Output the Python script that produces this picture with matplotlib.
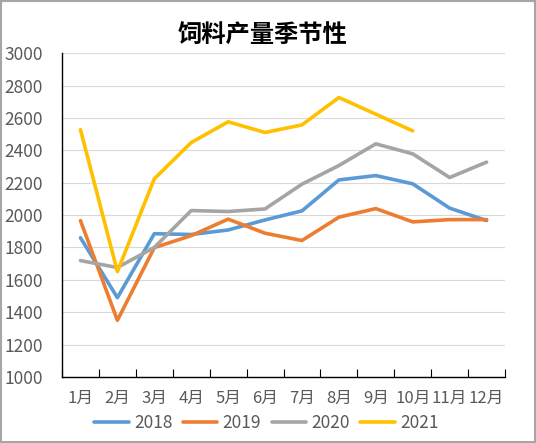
import matplotlib
matplotlib.use('Agg')
import matplotlib.pyplot as plt
from matplotlib.patches import Rectangle
import numpy as np

plt.rcParams['font.family'] = ['Noto Sans CJK SC', 'DejaVu Sans']

months = ['1月', '2月', '3月', '4月', '5月', '6月', '7月', '8月', '9月', '10月', '11月', '12月']
y2018 = [1860, 1490, 1885, 1880, 1908, 1970, 2026, 2217, 2244, 2193, 2043, 1966]
y2019 = [1966, 1350, 1799, 1873, 1975, 1888, 1843, 1987, 2040, 1958, 1972, 1972]
y2020 = [1719, 1676, 1800, 2028, 2022, 2038, 2191, 2306, 2440, 2378, 2232, 2327]
y2021 = [2527, 1651, 2224, 2448, 2576, 2510, 2557, 2726, 2623, 2520]

series = [
    ('2018', y2018, '#5B9BD5'),
    ('2019', y2019, '#ED7D31'),
    ('2020', y2020, '#A5A5A5'),
    ('2021', y2021, '#FFC000'),
]

fig = plt.figure(figsize=(5.36, 4.43), dpi=100)
ax = fig.add_axes([0.1157, 0.149, 0.9422 - 0.1157, 0.880 - 0.149])

for name, vals, col in series:
    ax.plot(np.arange(len(vals)), vals, color=col, lw=2.6, label=name,
            solid_capstyle='round', solid_joinstyle='round')

ax.set_xlim(-0.5, 11.5)
ax.set_ylim(1000, 3000)
ax.set_yticks(range(1000, 3001, 200))
ax.tick_params(axis='y', length=0, pad=14, labelsize=12.5, labelcolor='#595959')
ax.grid(axis='y', color='#D9D9D9', lw=0.8)
ax.set_axisbelow(True)

# category boundaries as ticks, labels in the middle
ax.set_xticks(np.arange(-0.5, 12, 1))
ax.set_xticklabels([])
ax.tick_params(axis='x', which='major', direction='in', length=6, color='black')
ax.set_xticks(np.arange(12), minor=True)
ax.set_xticklabels(months, minor=True)
ax.tick_params(axis='x', which='minor', length=0, pad=9, labelsize=12, labelcolor='#595959')

for s in ['top', 'right']:
    ax.spines[s].set_visible(False)
for s in ['left', 'bottom']:
    ax.spines[s].set_color('black')
    ax.spines[s].set_linewidth(1)

fig.text(0.489, 0.921, '饲料产量季节性', ha='center', va='center', fontsize=17.5,
         fontweight='bold', color='black')

ax.legend(loc='center', bbox_to_anchor=(0.497, 0.045), bbox_transform=fig.transFigure,
          ncol=4, frameon=False, fontsize=12.5, handlelength=2.0, handletextpad=0.3,
          columnspacing=0.6, labelcolor='#595959')

fig.patches.append(Rectangle((0.002, 0.002), 0.996, 0.996, transform=fig.transFigure,
                             fill=False, edgecolor='#A6A6A6', lw=1.5))

fig.savefig('out.png', dpi=100)
